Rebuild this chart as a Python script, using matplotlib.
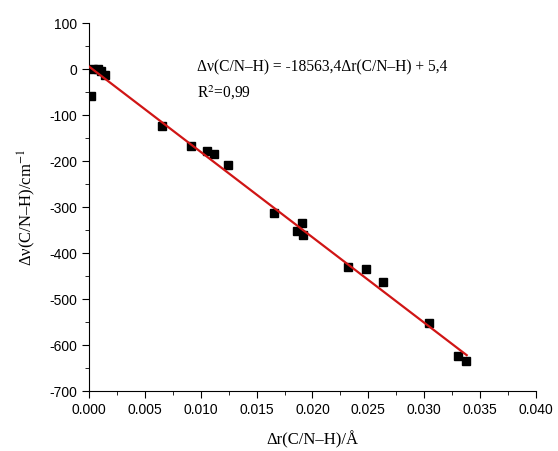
import numpy as np
import matplotlib.pyplot as plt
from matplotlib.ticker import MultipleLocator

# data
dr = [0.0002, 0.0004, 0.0008, 0.0011, 0.0014,
      0.00656, 0.0091, 0.01056, 0.01119, 0.01244,
      0.01655, 0.01909, 0.01864, 0.01912, 0.0232,
      0.02476, 0.02634, 0.03043, 0.03305, 0.03371]
dnu = [-58, 0, -1, -5, -12,
       -123, -167, -178, -185, -208,
       -314, -335, -352, -361, -431,
       -435, -464, -552, -624, -635]

slope, intercept = -18563.4, 5.4
fit_x = [0.0, 0.0338]

plt.rcParams['font.family'] = 'Liberation Sans'
plt.rcParams['mathtext.fontset'] = 'stix'

fig = plt.figure(figsize=(5.58, 4.51), dpi=100)
ax = fig.add_axes([0.1595, 0.133, 0.801, 0.816])

ax.plot(dr, dnu, 's', color='black', ms=5.5, zorder=2)
fx = np.array(fit_x)
ax.plot(fx, slope * fx + intercept, color='#d01515', lw=1.6, zorder=3)

ax.set_xlim(0, 0.040)
ax.set_ylim(-700, 100)
ax.xaxis.set_major_locator(MultipleLocator(0.005))
ax.xaxis.set_minor_locator(MultipleLocator(0.0025))
ax.yaxis.set_major_locator(MultipleLocator(100))
ax.yaxis.set_minor_locator(MultipleLocator(50))
ax.xaxis.set_major_formatter(plt.FuncFormatter(lambda v, p: f'{v:.3f}'))
ax.yaxis.set_major_formatter(plt.FuncFormatter(lambda v, p: f'{v:.0f}'))

for s in ['top', 'right']:
    ax.spines[s].set_visible(False)
ax.tick_params(which='major', direction='out', length=5, labelsize=10)
ax.tick_params(which='minor', direction='out', length=3)

serif = 'Liberation Serif'
ax.set_xlabel('Δr(C/N–H)/Å', fontsize=12, family=serif, labelpad=10)
ax.set_ylabel('Δν(C/N–H)/cm$^{-1}$', fontsize=12, family=serif, labelpad=8)

ax.text(0.0097, 4, 'Δν(C/N–H) = -18563,4Δr(C/N–H) + 5,4', fontsize=11.2,
        family=serif, va='center')
ax.text(0.0097, -52, 'R$^{2}$=0,99', fontsize=11.2, family=serif, va='center')

fig.savefig('out.png', dpi=100)
